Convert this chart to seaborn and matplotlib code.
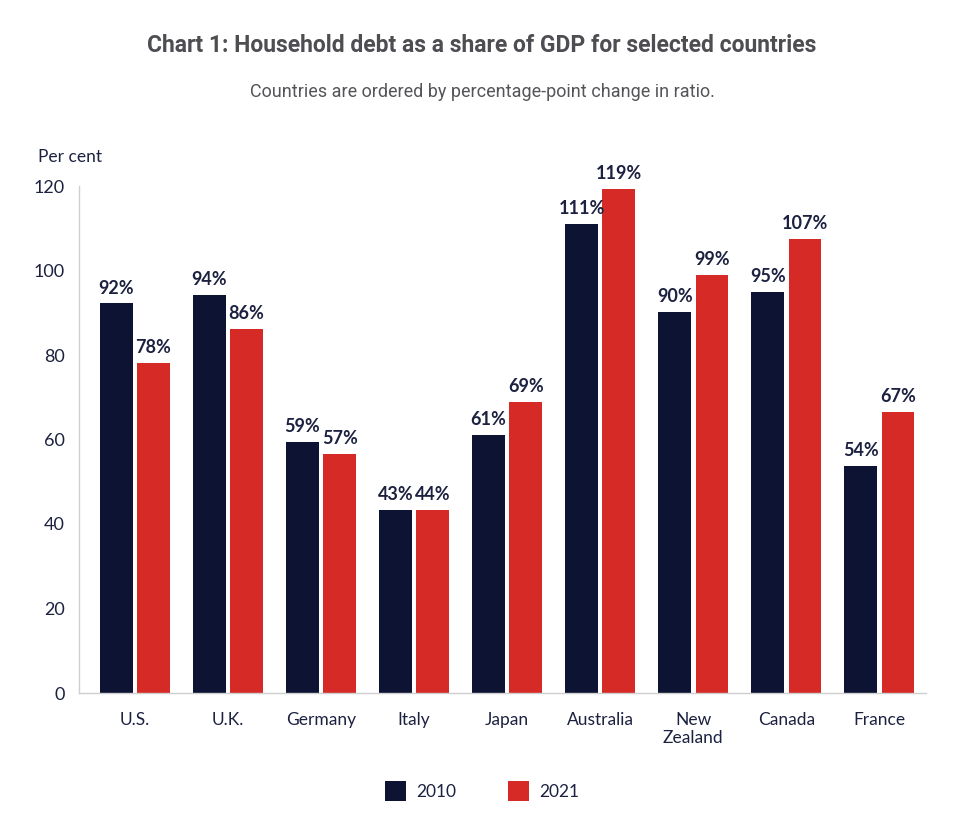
import matplotlib
matplotlib.use("Agg")
import matplotlib.pyplot as plt
import seaborn as sns
import pandas as pd
from matplotlib.patches import Patch

countries = ["U.S.", "U.K.", "Germany", "Italy", "Japan", "Australia", "New\nZealand", "Canada", "France"]
vals_2010 = [92.2, 94.2, 59.4, 43.3, 61.1, 111.0, 90.2, 94.9, 53.7]
vals_2021 = [78.1, 86.2, 56.5, 43.4, 68.9, 119.4, 98.9, 107.4, 66.6]
labels_2010 = ["92%", "94%", "59%", "43%", "61%", "111%", "90%", "95%", "54%"]
labels_2021 = ["78%", "86%", "57%", "44%", "69%", "119%", "99%", "107%", "67%"]
years = ["2010", "2021"]
yticks = [0, 20, 40, 60, 80, 100, 120]

navy = "#0d1433"
red = "#d52a26"
gray = "#cfcfcf"
text_col = "#1c2140"

df = pd.DataFrame({
    "country": countries * 2,
    "year": [years[0]] * len(countries) + [years[1]] * len(countries),
    "value": vals_2010 + vals_2021,
})

sns.set_theme(style="white")
plt.rcParams["font.family"] = ["Lato", "DejaVu Sans"]

fig = plt.figure(figsize=(9.8, 8.17), dpi=100)
ax = fig.add_axes([79 / 980, 1 - 693 / 817, (926 - 79) / 980, (693 - 186) / 817])

sns.barplot(data=df, x="country", y="value", hue="year", order=countries,
            hue_order=years, palette=[navy, red], width=0.8, gap=0.12,
            saturation=1, ax=ax, legend=False, edgecolor="none")

ax.set_xlim(-0.6, len(countries) - 0.5)
ax.set_ylim(0, 120)
ax.set_yticks(yticks)
ax.set_yticklabels([str(t) for t in yticks], fontsize=13, color=text_col)
ax.set_xticks(range(len(countries)))
ax.set_xticklabels(countries, fontsize=12.5, color=text_col, linespacing=1.1)
ax.tick_params(axis="x", length=0, pad=14)
ax.tick_params(axis="y", length=4, direction="in", color=gray, width=1, pad=10)
ax.set_xlabel("")
ax.set_ylabel("")

# minor ticks between groups
ax.set_xticks([i + 0.5 for i in range(0, len(countries))], minor=True)
ax.tick_params(axis="x", which="minor", length=4, direction="in", color=gray, width=1)

for s in ["top", "right"]:
    ax.spines[s].set_visible(False)
for s in ["left", "bottom"]:
    ax.spines[s].set_color(gray)
    ax.spines[s].set_linewidth(1)

all_labels = [labels_2010, labels_2021]
for cont, labs in zip(ax.containers, all_labels):
    ax.bar_label(cont, labels=labs, padding=5, fontsize=13, fontweight="bold",
                 color=text_col, clip_on=False)

fig.text(38 / 980, 1 - 157 / 817, "Per cent", fontsize=12.5, color=text_col,
         ha="left", va="center")

fig.text(482 / 980, 1 - 45 / 817, "Chart 1: Household debt as a share of GDP for selected countries",
         fontsize=16.5, fontweight="bold", color="#4d4d52", ha="center", va="center",
         family=["Roboto", "DejaVu Sans"])
fig.text(482 / 980, 1 - 92 / 817, "Countries are ordered by percentage-point change in ratio.",
         fontsize=13, color="#555559", ha="center", va="center",
         family=["Roboto", "DejaVu Sans"])

handles = [Patch(facecolor=navy, edgecolor="none"), Patch(facecolor=red, edgecolor="none")]
fig.legend(handles, years, loc="center", bbox_to_anchor=(482 / 980, 1 - 791 / 817),
           ncol=2, frameon=False, fontsize=12.5, handlelength=1.2, handleheight=1.35,
           columnspacing=3.0, handletextpad=0.6, labelcolor=text_col)

fig.savefig("out.png", dpi=100, facecolor="white")
